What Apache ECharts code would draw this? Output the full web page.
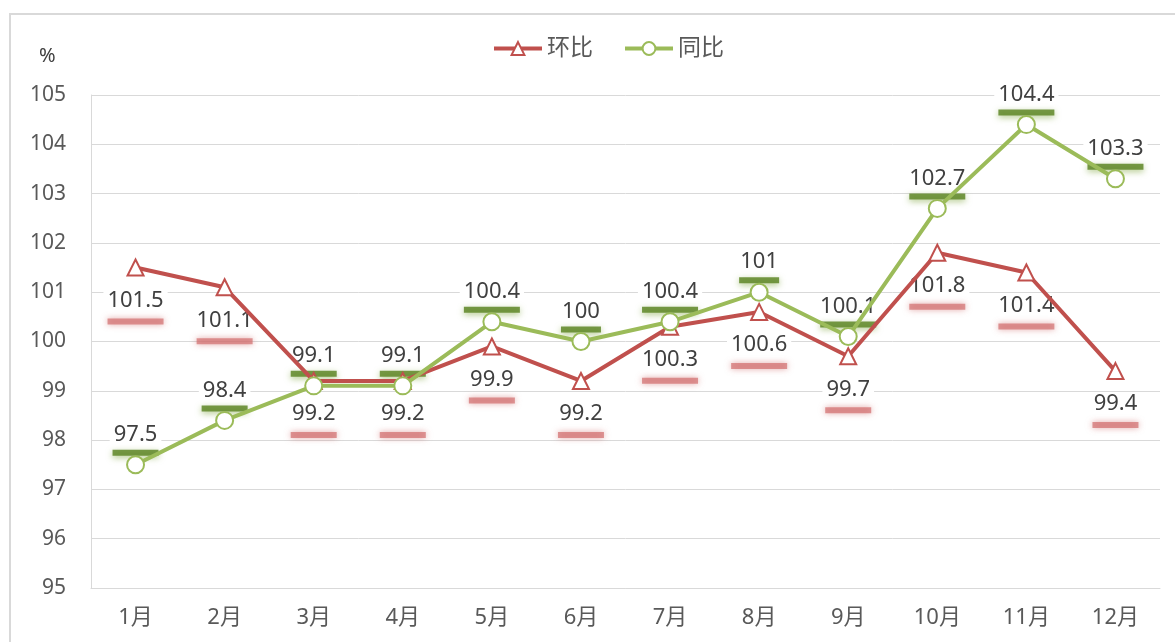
<!DOCTYPE html>
<html>
<head>
<meta charset="utf-8">
<script src="https://cdn.jsdelivr.net/npm/echarts@6/dist/echarts.min.js"></script>
<style>
html,body{margin:0;padding:0;background:#fff;}
#frame{position:absolute;left:9px;top:13px;width:1200px;height:700px;border-top:2px solid #d9d9d9;border-left:2px solid #d9d9d9;}
#chart{position:absolute;left:0;top:0;width:1175px;height:642px;}
</style>
</head>
<body>
<div id="frame"></div>
<div id="chart"></div>
<script>
const categories = ['1月','2月','3月','4月','5月','6月','7月','8月','9月','10月','11月','12月'];
const huanbi = [101.5, 101.1, 99.2, 99.2, 99.9, 99.2, 100.3, 100.6, 99.7, 101.8, 101.4, 99.4];
const tongbi = [97.5, 98.4, 99.1, 99.1, 100.4, 100, 100.4, 101, 100.1, 102.7, 104.4, 103.3];
const seriesNames = ['环比', '同比'];

const RED = '#C0504D';
const GREEN = '#9BBB59';
const FONT = '"Noto Sans", "Noto Sans CJK SC", sans-serif';

function barStyles(fill, shadow, lineH, offY) {
  const widths = {b3: 40, b4: 46, b5: 56};
  const out = {};
  for (const k in widths) {
    out[k] = {width: widths[k], height: 6, lineHeight: lineH, backgroundColor: fill, shadowColor: shadow, shadowBlur: 6, shadowOffsetY: offY};
  }
  return out;
}
function fmt(p) {
  const s = String(p.value);
  return '{t|' + s + '}\n{b' + s.length + '|}';
}
const textTok = {fontSize: 22, color: '#404040', fontFamily: FONT, backgroundColor: '#fff', lineHeight: 26, padding: [0, 4]};
const redRich = Object.assign({t: textTok}, barStyles('rgba(210,110,110,0.7)', 'rgba(205,100,100,0.8)', 16, 0));
const greenRich = Object.assign({t: textTok}, barStyles('rgba(95,135,40,0.85)', 'rgba(125,165,60,0.7)', 10, 2));

const hiddenSym = {color: 'rgba(0,0,0,0)', borderWidth: 0};

const chart = echarts.init(document.getElementById('chart'));
chart.setOption({
  animation: false,
  backgroundColor: 'transparent',
  textStyle: {fontFamily: FONT},
  legend: {
    left: 487, top: 32,
    itemWidth: 48, itemHeight: 16, itemGap: 30,
    lineStyle: {width: 4},
    itemStyle: {borderWidth: 2},
    textStyle: {fontSize: 23, color: '#595959', fontFamily: FONT},
    data: seriesNames
  },
  graphic: [{type: 'text', left: 39, top: 46, style: {text: '%', fontSize: 20, fill: '#404040', fontFamily: FONT}}],
  grid: {left: 91, right: 15, top: 95, bottom: 54},
  xAxis: {
    type: 'category', data: categories, boundaryGap: true,
    axisLine: {lineStyle: {color: '#d9d9d9', width: 1}},
    axisTick: {show: false},
    axisLabel: {fontSize: 22, color: '#595959', margin: 19, fontFamily: FONT}
  },
  yAxis: {
    type: 'value', min: 95, max: 105, interval: 1,
    axisLine: {show: true, lineStyle: {color: '#d9d9d9', width: 1}},
    axisTick: {show: false},
    splitLine: {lineStyle: {color: '#d9d9d9', width: 1}},
    axisLabel: {fontSize: 21, color: '#595959', margin: 25, fontFamily: FONT}
  },
  series: [
    {
      name: seriesNames[0] + '标签', type: 'line', data: huanbi, z: 1,
      symbol: 'rect', symbolSize: 16, silent: true,
      lineStyle: {width: 0, opacity: 0},
      itemStyle: hiddenSym,
      label: {show: true, position: 'bottom', distance: 12, formatter: fmt, rich: redRich}
    },
    {
      name: seriesNames[1] + '标签', type: 'line', data: tongbi, z: 1,
      symbol: 'rect', symbolSize: 17, silent: true,
      lineStyle: {width: 0, opacity: 0},
      itemStyle: hiddenSym,
      label: {show: true, position: 'top', distance: -1.5, formatter: fmt, rich: greenRich}
    },
    {
      name: seriesNames[0], type: 'line', data: huanbi, z: 3,
      symbol: 'emptyTriangle', symbolSize: 16,
      color: RED,
      lineStyle: {color: RED, width: 4},
      itemStyle: {color: RED, borderWidth: 2}
    },
    {
      name: seriesNames[1], type: 'line', data: tongbi, z: 4,
      symbol: 'emptyCircle', symbolSize: 17,
      color: GREEN,
      lineStyle: {color: GREEN, width: 4},
      itemStyle: {color: GREEN, borderWidth: 2}
    }
  ]
});
</script>
</body>
</html>
